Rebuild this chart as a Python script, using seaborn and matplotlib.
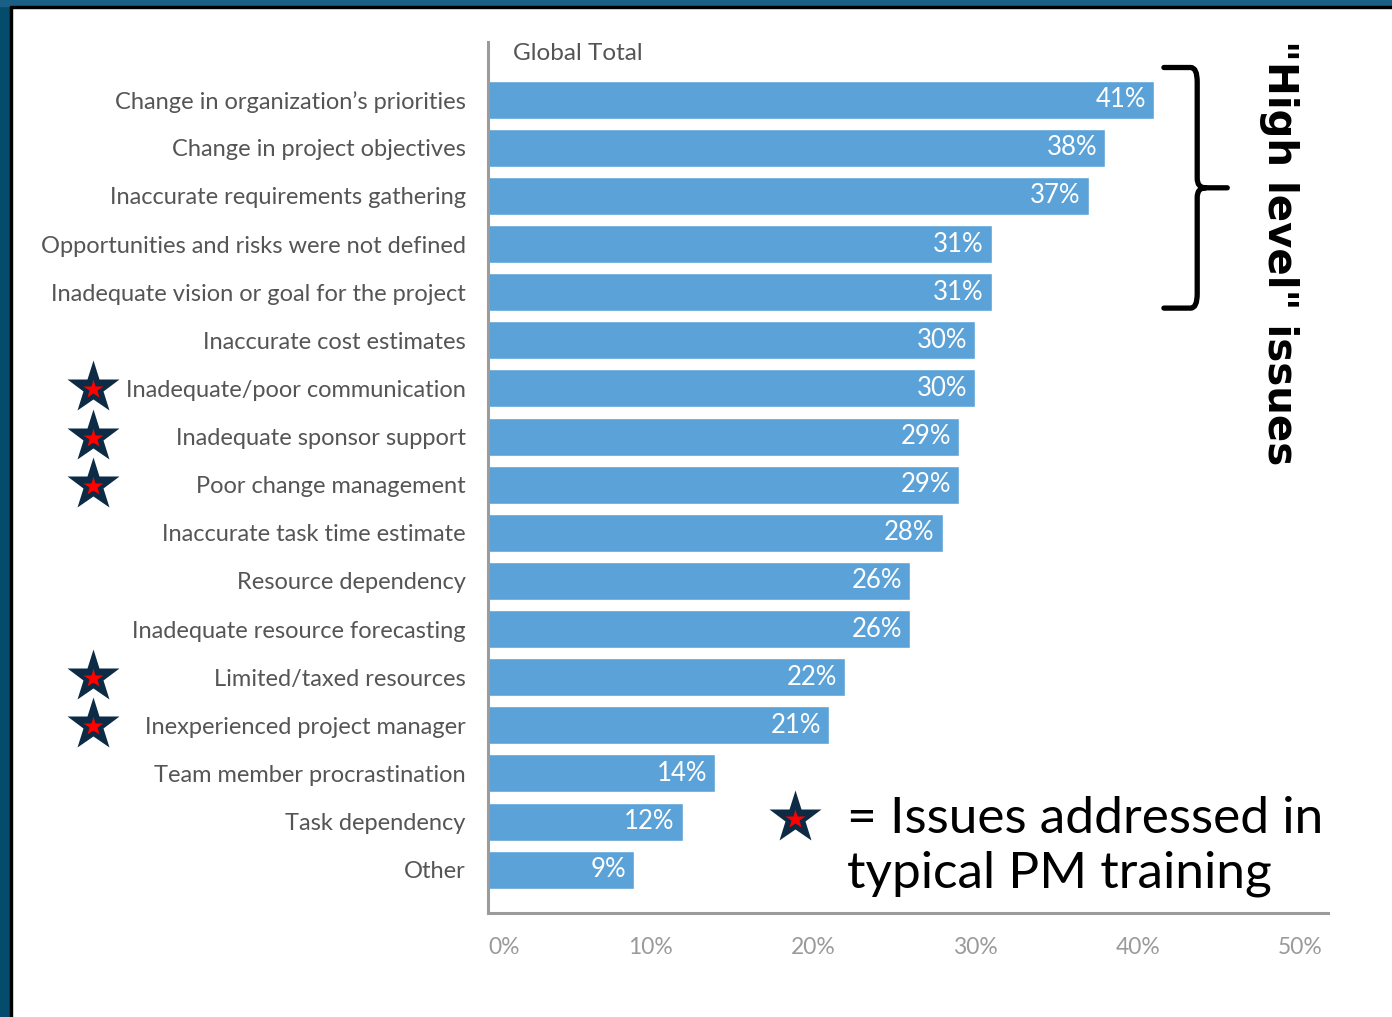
import matplotlib
matplotlib.use("Agg")
import matplotlib.pyplot as plt
from matplotlib.patches import Rectangle
from matplotlib.path import Path
from matplotlib.patches import PathPatch
import seaborn as sns
import pandas as pd

# Reasons for project failure, global total share of respondents (%)
causes = [
    "Change in organization\u2019s priorities",
    "Change in project objectives",
    "Inaccurate requirements gathering",
    "Opportunities and risks were not defined",
    "Inadequate vision or goal for the project",
    "Inaccurate cost estimates",
    "Inadequate/poor communication",
    "Inadequate sponsor support",
    "Poor change management",
    "Inaccurate task time estimate",
    "Resource dependency",
    "Inadequate resource forecasting",
    "Limited/taxed resources",
    "Inexperienced project manager",
    "Team member procrastination",
    "Task dependency",
    "Other",
]
shares = [41, 38, 37, 31, 31, 30, 30, 29, 29, 28, 26, 26, 22, 21, 14, 12, 9]
# Causes that typical PM training covers
trained = [
    "Inadequate/poor communication",
    "Inadequate sponsor support",
    "Poor change management",
    "Limited/taxed resources",
    "Inexperienced project manager",
]
high_level = causes[:5]
x_ticks = [0, 10, 20, 30, 40, 50]
x_tick_labels = ["0%", "10%", "20%", "30%", "40%", "50%"]

BAR = "#5ba2d8"
NAVY = "#0d2b44"
STAR_RED = "#ff0000"
LABEL_GRAY = "#555555"
TICK_GRAY = "#9a9a9a"

sns.set_theme(style="white")
plt.rcParams["font.family"] = ["Lato", "DejaVu Sans"]

df = pd.DataFrame({"cause": causes, "share": shares})

fig = plt.figure(figsize=(13.92, 10.17), dpi=100, facecolor="white")

# slide frame: dark blue strips on the left and top edges with a black rule
W, H = 1392, 1017
fig.patches.append(Rectangle((0, 0), 10 / W, 1, transform=fig.transFigure,
                             color="#054b6b", zorder=0))
fig.patches.append(Rectangle((10 / W, 0), 2 / W, 1, transform=fig.transFigure,
                             color="black", zorder=0))
fig.patches.append(Rectangle((0, 1 - 6 / H), 1, 6 / H, transform=fig.transFigure,
                             color="#1a5f86", zorder=0))
fig.patches.append(Rectangle((10 / W, 1 - 8 / H), 1, 2 / H, transform=fig.transFigure,
                             color="black", zorder=0))

ax = fig.add_axes([488 / W, 104 / H, 840 / W, 871 / H])
ax.set_facecolor("none")

sns.barplot(data=df, y="cause", x="share", orient="h", color=BAR,
            saturation=1, width=0.79, ax=ax)

ax.set_xlim(0, 51.7)
ax.set_ylim(16.9, -1.2)
ax.set_xlabel("")
ax.set_ylabel("")
ax.set_xticks(x_ticks)
ax.set_xticklabels(x_tick_labels, color=TICK_GRAY, fontsize=16.5)
ax.get_xticklabels()[0].set_ha("left")
ax.tick_params(axis="x", length=0, pad=17)
ax.tick_params(axis="y", length=0, pad=16, labelsize=17, labelcolor=LABEL_GRAY)

for side in ("top", "right"):
    ax.spines[side].set_visible(False)
for side in ("left", "bottom"):
    ax.spines[side].set_color("#9b9b9b")
    ax.spines[side].set_linewidth(2.2)

# value labels inside the bar ends
for i, v in enumerate(shares):
    ax.annotate(f"{v}%", xy=(v, i), xytext=(-6, 0), textcoords="offset points",
                ha="right", va="center", color="white", fontsize=18.5)

ax.text(1.55, -0.97, "Global Total", ha="left", va="center",
        color=LABEL_GRAY, fontsize=17.5)

# stars beside the causes covered by PM training
star_trans = ax.get_yaxis_transform()
for name in trained:
    i = causes.index(name)
    ax.plot(-0.47, i, marker="*", ms=40, color=NAVY, mec="none",
            transform=star_trans, clip_on=False)
    ax.plot(-0.47, i + 0.02, marker="*", ms=15, color=STAR_RED, mec="none",
            transform=star_trans, clip_on=False)

# legend for the star symbol
ax.plot(18.9, 14.93, marker="*", ms=40, color=NAVY, mec="none", clip_on=False)
ax.plot(18.9, 14.95, marker="*", ms=15, color=STAR_RED, mec="none", clip_on=False)
ax.text(22.1, 15.52, "= Issues addressed in\ntypical PM training", ha="left",
        va="center", fontsize=37, color="black", linespacing=1.22)

# bracket grouping the top five causes
y0 = -0.67
y1 = len(high_level) - 1 + 0.33
ym = (y0 + y1) / 2
xl, xv, xr = 41.6, 43.65, 45.5
verts = [(xl, y0), (xv - 0.4, y0), (xv, y0), (xv, y0 + 0.3),
         (xv, ym - 0.2), (xv, ym), (xv + 0.5, ym), (xr, ym),
         (xv + 0.5, ym), (xv, ym), (xv, ym + 0.2),
         (xv, y1 - 0.3), (xv, y1), (xv - 0.4, y1), (xl, y1)]
codes = [Path.MOVETO, Path.LINETO, Path.CURVE3, Path.CURVE3,
         Path.LINETO, Path.CURVE3, Path.CURVE3, Path.LINETO,
         Path.MOVETO, Path.CURVE3, Path.CURVE3,
         Path.LINETO, Path.CURVE3, Path.CURVE3, Path.LINETO]
ax.add_patch(PathPatch(Path(verts, codes), fill=False, lw=3.8, color="black",
                       capstyle="round", joinstyle="round", clip_on=False))

ax.text(48.7, 3.18, "\"High level\" issues", rotation=-90,
        ha="center", va="center", fontsize=29, fontweight="bold", color="black",
        family=["DejaVu Sans"])

fig.savefig("out.png", dpi=100, facecolor="white")
